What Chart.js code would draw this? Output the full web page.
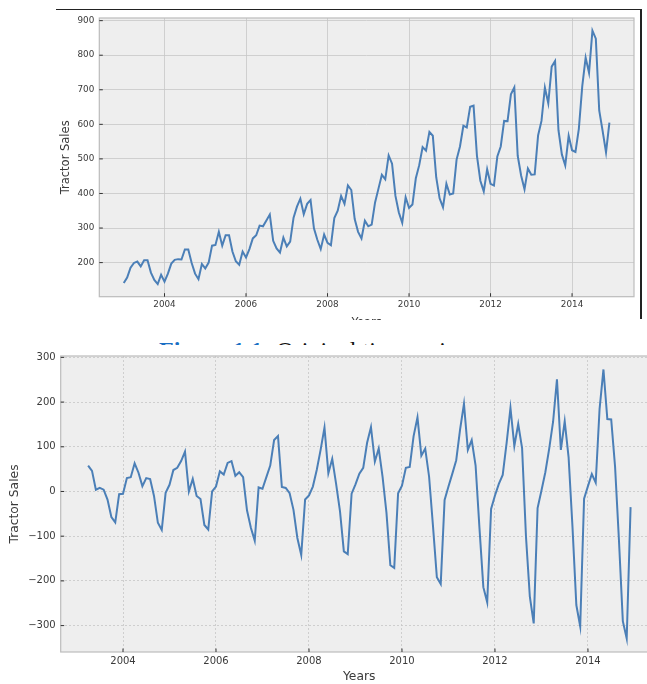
<!DOCTYPE html>
<html>
<head>
<meta charset="utf-8">
<script src="https://cdn.jsdelivr.net/npm/chart.js@4.4.1/dist/chart.umd.min.js"></script>
<style>
  html, body { margin: 0; padding: 0; background: #fff; overflow: hidden; }
  body { width: 647px; height: 684px; position: relative; }
  #topWrap { position: absolute; left: 0; top: 0; width: 647px; height: 320px; overflow: hidden; }
  #topFrame { position: absolute; left: 56px; top: 9px; width: 584px; height: 309px;
    border-top: 1.5px solid #222; border-right: 2px solid #222; }
  #captionWrap { position: absolute; left: 0; top: 330px; width: 647px; height: 15px; overflow: hidden; }
  #caption { position: absolute; left: 159px; top: 8px; white-space: nowrap;
    font-family: "Liberation Serif", serif; font-size: 24px; line-height: 24px; color: #111; }
  #caption b { color: #1a6fc4; }
  #bottomWrap { position: absolute; left: 0; top: 345px; width: 647px; height: 339px; overflow: hidden; background: #fff; }
</style>
</head>
<body>
<div id="topWrap">
  <canvas id="salesChart" width="647" height="330"></canvas>
</div>
<div id="topFrame"></div>
<div id="captionWrap"><div id="caption"><b>Figure 1.1:</b> Original time series</div></div>
<div id="bottomWrap">
  <canvas id="diffChart" width="680" height="339"></canvas>
</div>
<script>
// monthly tractor sales, Jan 2003 .. Dec 2014
const startYear = 2003;
const tractorSales = [
  141, 157, 185, 199, 203, 189, 207, 207, 171, 150, 138, 165,
  145, 168, 197, 208, 210, 209, 238, 238, 199, 168, 152, 196,
  183, 200, 249, 251, 289, 249, 279, 279, 232, 204, 194, 232,
  215, 239, 270, 279, 307, 305, 322, 339, 263, 241, 229, 272,
  247, 261, 330, 362, 385, 340, 370, 381, 299, 266, 239, 281,
  257, 250, 329, 350, 393, 370, 423, 410, 326, 289, 270, 321,
  305, 310, 374, 414, 454, 441, 510, 486, 393, 345, 315, 389,
  358, 368, 444, 482, 534, 524, 578, 567, 447, 386, 360, 428,
  397, 400, 498, 536, 596, 591, 651, 654, 509, 437, 406, 470,
  428, 423, 507, 536, 610, 609, 687, 707, 509, 452, 412, 472,
  454, 455, 568, 610, 706, 661, 767, 783, 583, 513, 481, 567,
  525, 520, 587, 710, 793, 749, 871, 848, 640, 581, 519, 605
];

// differenced series, starts Apr 2003 (month index 3)
const diffStartMonth = 3;
const salesDiff = [
                 58,   46,    4,    8,    4,  -18,  -57,  -69,   -6,
   -5,   30,   32,   63,   42,   12,   30,   28,  -10,  -70,  -86,   -3,
   15,   48,   53,   68,   89,    0,   28,  -10,  -17,  -75,  -85,    0,
   11,   45,   38,   64,   68,   35,   43,   32,  -42,  -81, -110,    9,
    6,   32,   58,  115,  124,   10,    8,   -4,  -41, -104, -142,  -18,
   -9,   11,   48,   93,  143,   41,   73,   17,  -44, -134, -140,   -5,
   16,   40,   53,  109,  144,   67,   96,   32,  -48, -165, -171,   -4,
   13,   53,   55,  124,  166,   80,   96,   33,  -77, -192, -207,  -19,
   11,   40,   70,  139,  196,   93,  115,   58,  -82, -214, -248,  -39,
   -9,   17,   37,  108,  187,  102,  151,   97, -100, -235, -295,  -37,
    2,   43,   96,  156,  251,   93,  157,   77,  -78, -254, -302,  -16,
   12,   39,   20,  185,  273,  162,  161,   55, -109, -290, -329,  -35
];

const yearTicks = [2004, 2006, 2008, 2010, 2012, 2014];
const salesTicks = [200, 300, 400, 500, 600, 700, 800, 900];
const diffTicks = [-300, -200, -100, 0, 100, 200, 300];

const LINE = '#4b7fb7';
const TEXT = '#3a3a3a';
const GRID = '#c6c6c6';
const FONT = '"DejaVu Sans", sans-serif';

// bmh-like panel: grey face, light frame, inward tick marks
const bmhPanel = {
  id: 'bmhPanel',
  beforeDraw(chart) {
    const { ctx, chartArea: a } = chart;
    ctx.save();
    ctx.fillStyle = '#eeeeee';
    ctx.fillRect(a.left, a.top, a.right - a.left, a.bottom - a.top);
    ctx.restore();
  },
  afterDraw(chart) {
    const { ctx, chartArea: a, scales } = chart;
    ctx.save();
    ctx.strokeStyle = '#bcbcbc';
    ctx.lineWidth = 1.2;
    ctx.strokeRect(a.left, a.top, a.right - a.left, a.bottom - a.top);
    ctx.strokeStyle = '#333';
    ctx.lineWidth = 1;
    ctx.beginPath();
    scales.x.ticks.forEach(t => {
      const px = scales.x.getPixelForValue(t.value);
      ctx.moveTo(px, a.bottom);
      ctx.lineTo(px, a.bottom - 3.5);
    });
    scales.y.ticks.forEach(t => {
      const py = scales.y.getPixelForValue(t.value);
      ctx.moveTo(a.left, py);
      ctx.lineTo(a.left + 3.5, py);
    });
    ctx.stroke();
    ctx.restore();
  }
};

function fmt(v) {
  return v < 0 ? '\u2212' + Math.abs(v) : String(v);
}

function makeChart(id, cfg) {
  const points = cfg.values.map((v, i) => ({ x: cfg.x0 + i / 12, y: v }));
  return new Chart(document.getElementById(id).getContext('2d'), {
    type: 'line',
    data: {
      datasets: [{
        data: points,
        borderColor: LINE,
        borderWidth: cfg.lineWidth,
        pointRadius: 0,
        tension: 0,
        fill: false
      }]
    },
    options: {
      responsive: false,
      animation: false,
      events: [],
      layout: { padding: cfg.padding },
      plugins: { legend: { display: false }, tooltip: { enabled: false } },
      scales: {
        x: {
          type: 'linear',
          min: cfg.xMin,
          max: cfg.xMax,
          afterBuildTicks: s => { s.ticks = yearTicks.map(v => ({ value: v })); },
          afterFit: s => { s.height = cfg.xHeight; },
          ticks: {
            callback: v => String(v),
            autoSkip: false, maxRotation: 0, padding: 3,
            color: TEXT, font: { family: FONT, size: cfg.tickSize }
          },
          grid: { color: GRID, lineWidth: 0.8, drawTicks: false },
          border: { display: false, dash: cfg.dash },
          title: {
            display: true, text: 'Years', padding: 0, color: TEXT,
            font: { family: FONT, size: cfg.labelSize, lineHeight: 1.2 }
          }
        },
        y: {
          min: cfg.yMin,
          max: cfg.yMax,
          afterBuildTicks: s => { s.ticks = cfg.yTicks.map(v => ({ value: v })); },
          afterFit: s => { s.width = cfg.yWidth; },
          ticks: {
            callback: v => fmt(v),
            padding: 5,
            color: TEXT, font: { family: FONT, size: cfg.tickSize }
          },
          grid: { color: GRID, lineWidth: 0.8, drawTicks: false },
          border: { display: false, dash: cfg.dash },
          title: {
            display: true, text: 'Tractor Sales', padding: 0, color: TEXT,
            font: { family: FONT, size: cfg.labelSize, lineHeight: 1.2 }
          }
        }
      }
    },
    plugins: [bmhPanel]
  });
}

makeChart('salesChart', {
  values: tractorSales,
  x0: startYear,
  xMin: 2002.40, xMax: 2015.52,
  yMin: 101.35, yMax: 907.65,
  yTicks: salesTicks,
  padding: { left: 58.8, top: 18, right: 13, bottom: 0 },
  yWidth: 40.5, xHeight: 33.3,
  tickSize: 8.8, labelSize: 11.5, lineWidth: 2, dash: []
});

makeChart('diffChart', {
  values: salesDiff,
  x0: startYear + diffStartMonth / 12,
  xMin: 2002.66, xMax: 2015.5,
  yMin: -359.1, yMax: 303.1,
  yTicks: diffTicks,
  padding: { left: 7.6, top: 11, right: 22.3, bottom: 0 },
  yWidth: 53.1, xHeight: 32,
  tickSize: 10, labelSize: 12.3, lineWidth: 2, dash: [2, 2]
});
</script>
</body>
</html>
